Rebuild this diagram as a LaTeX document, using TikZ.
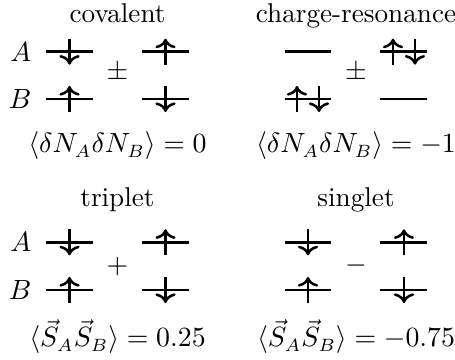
\documentclass[tikz,border=0pt]{standalone}
\usepackage{amsmath,amssymb}
\usepackage{tikz}
\usetikzlibrary{arrows.meta,positioning}

\begin{document}
\begin{tikzpicture}[
  font=\fontsize{10.7}{13}\selectfont,
  lvl/.style={line width=1pt},
  spin/.style={->, line width=1pt},
  title/.style={anchor=base},
  site/.style={anchor=east, inner sep=0pt},
  sign/.style={inner sep=0pt},
]
  \useasboundingbox (0,0) rectangle (6.296,-4.981);

  % Levels
  \foreach \cx in {1.626,4.926}
    \foreach \ly in {-0.715,-1.370,-3.353,-4.013} {
      \draw[lvl] (\cx-0.989,\ly) -- ++(0.650,0);
      \draw[lvl] (\cx+0.339,\ly) -- ++(0.650,0);
    }

  % Titles
  \node[title] (cov) at (1.626,-0.314) {covalent};
  \node[title] (cr) at (4.926,-0.314) {charge-resonance};
  \node[title] (trip) at (1.626,-2.851) {triplet};
  \node[title] (sing) at (4.926,-2.851) {singlet};

  % Sites
  \node[site] (A1) at (0.44,-0.715) {$A$};
  \node[site] (B1) at (0.44,-1.370) {$B$};
  \node[site] (A2) at (0.44,-3.353) {$A$};
  \node[site] (B2) at (0.44,-4.013) {$B$};

  % Spins up
  \foreach \x/\y in {0.962/-1.370, 2.290/-0.715, 0.962/-4.013, 2.290/-3.353,
                     4.262/-4.013, 5.590/-3.353, 4.110/-1.370, 5.438/-0.715}
    \draw[spin] (\x,\y-0.18) -- (\x,\y+0.18);
  % Spins down
  \foreach \x/\y in {0.962/-0.715, 2.290/-1.370, 0.962/-3.353, 2.290/-4.013,
                     4.262/-3.353, 5.590/-4.013, 4.414/-1.370, 5.742/-0.715}
    \draw[spin] (\x,\y+0.18) -- (\x,\y-0.18);

  % Signs
  \node[sign] (pm1) at (1.626,-1.010) {$\pm$};
  \node[sign] (pm2) at (4.926,-1.010) {$\pm$};
  \node[sign] (plus) at (1.626,-3.695) {$+$};
  \node[sign] (minus) at (4.926,-3.681) {$-$};

  % Expectation values
  \node[title] (nn1) at (1.626,-2.117) {$\langle\delta N_A\delta N_B\rangle = 0$};
  \node[title] (nn2) at (4.926,-2.117) {$\langle\delta N_A\delta N_B\rangle = -1$};
  \node[title] (ss1) at (1.626,-4.80) {$\langle\vec{S}_A\vec{S}_B\rangle = 0.25$};
  \node[title] (ss2) at (4.926,-4.80) {$\langle\vec{S}_A\vec{S}_B\rangle = -0.75$};
\end{tikzpicture}
\end{document}
